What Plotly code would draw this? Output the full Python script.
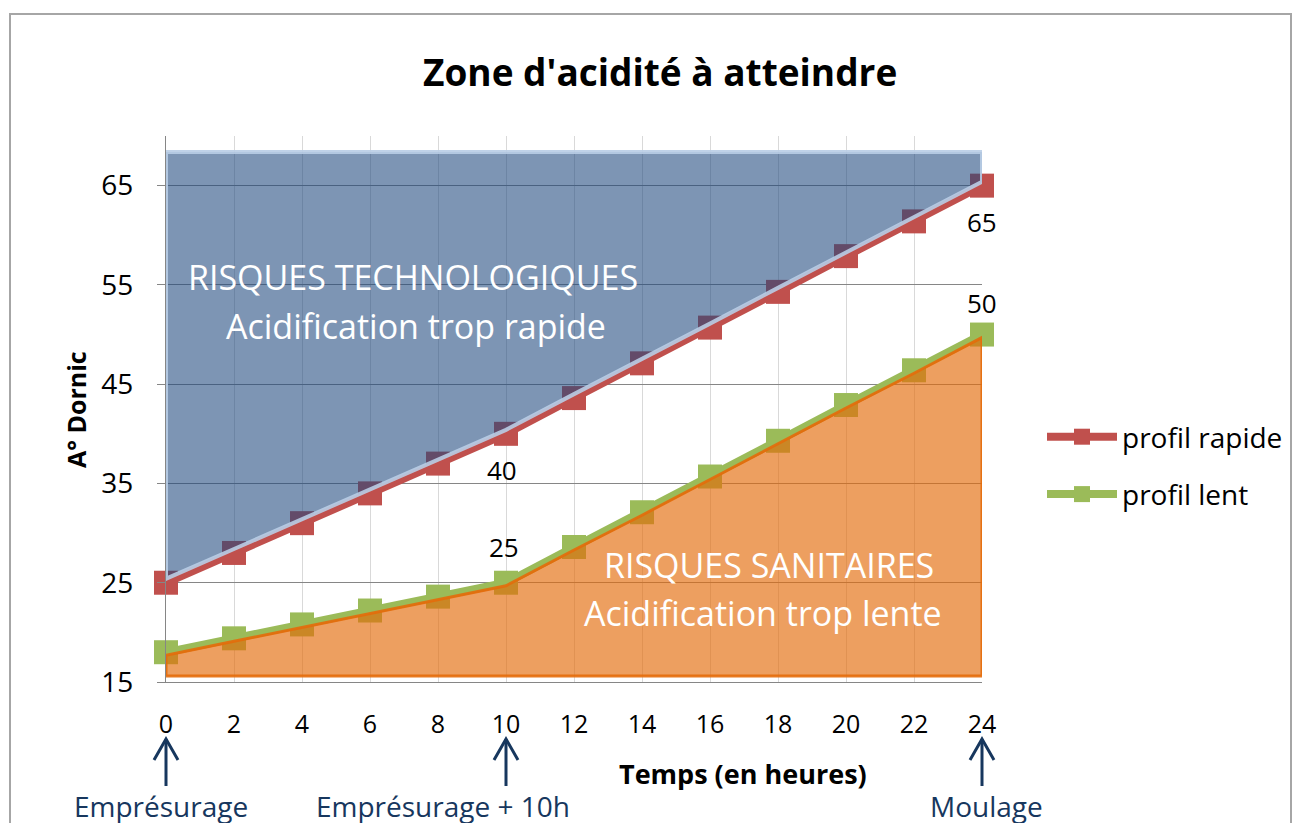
import plotly.graph_objects as go

# ---------------- data ----------------
hours = [0, 2, 4, 6, 8, 10, 12, 14, 16, 18, 20, 22, 24]
profil_rapide = [25, 28, 31, 34, 37, 40, 43.6, 47.1, 50.7, 54.3, 57.9, 61.4, 65]
profil_lent = [18, 19.4, 20.8, 22.2, 23.6, 25, 28.6, 32.1, 35.7, 39.3, 42.9, 46.4, 50]
y_ticks = [15, 25, 35, 45, 55, 65]
labelled_points = [("rapide", 24), ("lent", 24), ("rapide", 10), ("lent", 10)]
zone_top = 68.4      # upper limit of technological-risk zone
zone_floor = 15.6    # lower limit of sanitary-risk zone
milestones = [(0, "Emprésurage"), (10, "Emprésurage + 10h"), (24, "Moulage")]

# ---------------- geometry helpers ----------------
W, H = 1305, 823
OFF = 8  # body margin of the html page
L, R, T, B = 166, 982, 136, 682   # target plot-area edges on screen

def px(xp):
    return (xp - L) / (R - L)

def py(yp):
    return (B - yp) / (B - T)

def hour_px(h):
    return L + h * (R - L) / (hours[-1] - hours[0])

FONT = "Open Sans, Noto Sans, sans-serif"
RED = "#C0504D"
GREEN = "#9BBB59"
NAVY = "#17375E"

fig = go.Figure()

fig.add_trace(go.Scatter(
    x=hours, y=profil_rapide, mode="lines+markers", name="profil rapide",
    line=dict(color=RED, width=8), marker=dict(symbol="square", size=24, color=RED),
    cliponaxis=False, legendgroup="a"))
fig.add_trace(go.Scatter(
    x=hours, y=profil_lent, mode="lines+markers", name="profil lent",
    line=dict(color=GREEN, width=8), marker=dict(symbol="square", size=24, color=GREEN),
    cliponaxis=False, legendgroup="b"))

# blue zone (technological risks)
bx = [hours[0]] + hours + [hours[-1], hours[0]]
by = [zone_top] + [v + 0.4 for v in profil_rapide] + [zone_top, zone_top]
fig.add_trace(go.Scatter(
    x=bx, y=by, mode="lines", fill="toself", fillcolor="rgba(31,73,125,0.58)",
    line=dict(color="rgba(185,205,229,0.9)", width=4), showlegend=False,
    hoverinfo="skip", cliponaxis=False))

# orange zone (sanitary risks)
ox = [hours[0]] + hours + [hours[-1], hours[0]]
oy = [zone_floor] + [v - 0.3 for v in profil_lent] + [zone_floor, zone_floor]
fig.add_trace(go.Scatter(
    x=ox, y=oy, mode="lines", fill="toself", fillcolor="rgba(228,108,10,0.65)",
    line=dict(color="rgba(228,108,10,0.9)", width=3), showlegend=False,
    hoverinfo="skip", cliponaxis=False))

ann = []
# data labels
offsets = {("rapide", 24): (0, -36), ("lent", 24): (0, 32),
           ("rapide", 10): (-4, -36), ("lent", 10): (-2, 36)}
for series, h in labelled_points:
    vals = profil_rapide if series == "rapide" else profil_lent
    v = vals[hours.index(h)]
    dx, dy = offsets[(series, h)]
    ann.append(dict(x=h, y=v, text=f"{v:g}", showarrow=False, xshift=dx, yshift=dy,
                    xanchor="center", yanchor="middle",
                    font=dict(family=FONT, size=26, color="#000000")))

def note(text, xp, yp, size, color="#000000", bold=False, angle=0):
    t = f"<b>{text}</b>" if bold else text
    ann.append(dict(xref="paper", yref="paper", x=px(xp), y=py(yp), text=t,
                    showarrow=False, xanchor="center", yanchor="middle", textangle=angle,
                    font=dict(family=FONT, size=size, color=color)))

# zone texts
note("RISQUES TECHNOLOGIQUES", 413, 277, 34, "white")
note("Acidification trop rapide", 416, 326, 34, "white")
note("RISQUES SANITAIRES", 769, 565, 34, "white")
note("Acidification trop lente", 763, 613, 34, "white")

# title and axis titles
note("Zone d'acidité à atteindre", 660, 72, 37, bold=True)
note("Temps (en heures)", 743, 773, 27, bold=True)
note("A° Dornic", 76, 410, 25, bold=True, angle=-90)

# milestone labels
label_x = {0: 161, 10: 443, 24: 986}
for h, t in milestones:
    note(t, label_x[h], 806, 28, NAVY)

shapes = []
# milestone arrows
for h, _ in milestones:
    xc = hour_px(h)
    shapes.append(dict(type="line", xref="paper", yref="paper", x0=px(xc), x1=px(xc),
                       y0=py(786), y1=py(739), line=dict(color=NAVY, width=3)))
    shapes.append(dict(type="path", xref="paper", yref="paper",
                       path=f"M {px(xc - 12)},{py(760)} L {px(xc)},{py(739)} L {px(xc + 12)},{py(760)}",
                       line=dict(color=NAVY, width=3)))
# outer frame
shapes.append(dict(type="rect", xref="paper", yref="paper", x0=px(10), x1=px(1291),
                   y0=py(840), y1=py(14), line=dict(color="#A6A6A6", width=2), layer="below"))

fig.update_layout(
    width=W, height=H,
    margin=dict(l=L - OFF, r=W - R + OFF, t=T - OFF, b=H - B + OFF),
    paper_bgcolor="white", plot_bgcolor="white",
    font=dict(family=FONT, size=22, color="#000000"),
    annotations=ann, shapes=shapes,
    showlegend=True,
    legend=dict(x=px(1042), y=py(412), xanchor="left", yanchor="top",
                font=dict(family=FONT, size=28, color="#000000"),
                itemwidth=70, tracegroupgap=18, traceorder="grouped",
                bgcolor="rgba(0,0,0,0)"),
    xaxis=dict(range=[0, 24], tickvals=hours, showgrid=True, gridcolor="#D9D9D9",
               gridwidth=1, showline=True, linecolor="#868686", linewidth=1,
               zeroline=False, ticks="", ticklabelstandoff=20,
               tickfont=dict(family=FONT, size=25, color="#000000")),
    yaxis=dict(range=[15, 70], tickvals=y_ticks, showgrid=True, gridcolor="#868686",
               gridwidth=1, showline=True, linecolor="#868686", linewidth=1,
               zeroline=False, ticks="outside", ticklen=8, tickcolor="#868686",
               ticklabelstandoff=18,
               tickfont=dict(family=FONT, size=28, color="#000000")),
)

fig.write_html("out.html")
